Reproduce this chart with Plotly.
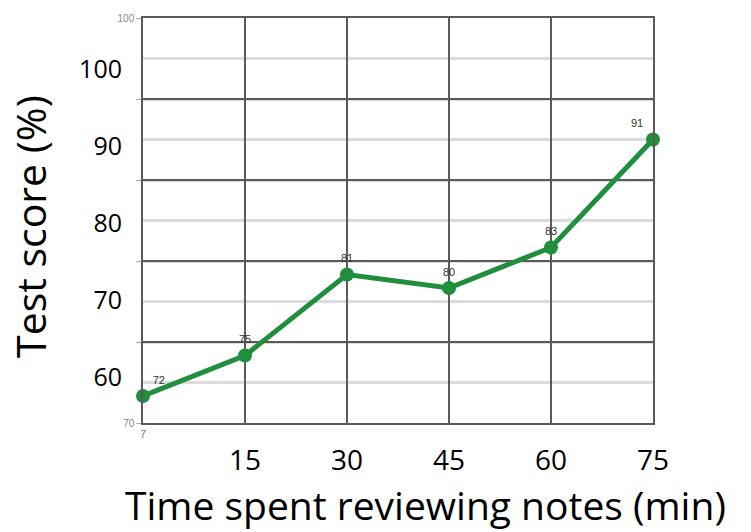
import plotly.graph_objects as go

# Data
minutes = [0, 15, 30, 45, 60, 75]
scores = [72, 75, 81, 80, 83, 91]
score_labels = ["72", "75", "81", "80", "83", "91"]
label_pos = ["top right", "top center", "top center", "top center", "top center", "top left"]

# Original (small) axis labels
grid_y = [70, 76, 82, 88, 94, 100]
grid_y_text = ["70", "", "", "", "", "100"]
small_x_text = ["7", "", "", "", "", ""]

# Overlaid (large) axis labels
big_y_vals = [60, 70, 80, 90, 100]
big_y_text = ["60", "70", "80", "90", "100"]
big_x_vals = [15, 30, 45, 60, 75]
big_x_text = ["15", "30", "45", "60", "75"]

x_title = "Time spent reviewing notes (min)"
y_title = "Test score (%)"

GREEN = "#1f8e3d"
DARK_GRID = "#5a5a5a"
LIGHT_GRID = "#dcdcdc"
BIG_FONT = "Open Sans"

fig = go.Figure()
fig.add_trace(go.Scatter(
    x=minutes, y=scores, mode="lines+markers+text",
    text=score_labels, textposition=label_pos,
    textfont=dict(family="Liberation Sans", size=11, color="#333333"),
    line=dict(color=GREEN, width=5),
    marker=dict(color=GREEN, size=14),
    cliponaxis=False, showlegend=False, hoverinfo="skip",
))
# invisible trace for overlay axes
fig.add_trace(go.Scatter(x=[None], y=[None], xaxis="x2", yaxis="y2", showlegend=False, hoverinfo="skip"))

fig.update_layout(
    width=751, height=532,
    margin=dict(l=143, r=98, t=16, b=109),
    paper_bgcolor="white", plot_bgcolor="white",
    xaxis=dict(
        range=[0, 75], tickmode="array", tickvals=minutes, ticktext=small_x_text,
        tickfont=dict(family="Liberation Sans", size=11, color="#777777"),
        ticks="", showgrid=True, gridcolor=DARK_GRID, gridwidth=1.5,
        zeroline=False, showline=True, linecolor=DARK_GRID, linewidth=1.5, mirror=True,
    ),
    yaxis=dict(
        range=[70, 100], tickmode="array", tickvals=grid_y, ticktext=grid_y_text,
        tickfont=dict(family="Liberation Sans", size=10, color="#888888"),
        ticks="outside", ticklen=5, tickcolor="#aaaaaa",
        showgrid=True, gridcolor=DARK_GRID, gridwidth=1.5,
        minor=dict(dtick=3, tick0=70, showgrid=True, gridcolor=LIGHT_GRID, gridwidth=3),
        zeroline=False, showline=True, linecolor=DARK_GRID, linewidth=1.5, mirror=True,
    ),
    xaxis2=dict(
        overlaying="x", side="bottom", anchor="y", range=[0, 75],
        tickmode="array", tickvals=big_x_vals, ticktext=big_x_text,
        tickfont=dict(family=BIG_FONT, size=28, color="black"),
        ticks="", ticklabelstandoff=18, showgrid=False, zeroline=False, showline=False,
    ),
    yaxis2=dict(
        overlaying="y", side="left", anchor="x", range=[54.05, 106.73],
        tickmode="array", tickvals=big_y_vals, ticktext=big_y_text,
        tickfont=dict(family=BIG_FONT, size=25, color="black"),
        ticks="", ticklabelstandoff=20, showgrid=False, zeroline=False, showline=False,
    ),
    annotations=[
        dict(text=x_title, xref="paper", yref="paper", x=0.553, y=-0.201,
             xanchor="center", yanchor="middle", showarrow=False,
             font=dict(family=BIG_FONT, size=39, color="black")),
        dict(text=y_title, xref="paper", yref="paper", x=-0.2216, y=0.4865,
             xanchor="center", yanchor="middle", showarrow=False, textangle=-90,
             font=dict(family=BIG_FONT, size=41, color="black")),
    ],
)

fig.write_html("out.html", config={"displayModeBar": False},
               post_script="document.body.style.margin='0px';")
